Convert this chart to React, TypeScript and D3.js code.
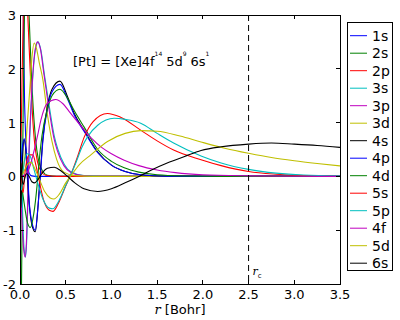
import * as d3 from "d3";

// radial functions as [r (Bohr), value] pairs
const s1s = [[0, 0], [0.005, 4.66], [0.0128, 6.5], [0.02, 5.8], [0.025, 4.9], [0.035, 3.14], [0.05, 1.39], [0.06, 0.84], [0.07, 0.41], [0.085, 0.17], [0.1, 0.06], [0.13, 0.01], [0.2, 0], [3.5, 0]];
const s2s = [[0, 0], [0.004, -1.8], [0.01, -2.5], [0.016, -2.1], [0.022, -1.1], [0.027, 0], [0.035, 1.3], [0.049, 3.0], [0.07, 3.8], [0.085, 3.5], [0.099, 3.0], [0.12, 2.1], [0.14, 1.4], [0.17, 0.7], [0.2, 0.32], [0.25, 0.09], [0.3, 0.02], [0.4, 0], [3.5, 0]];
const s2p = [[0, 0], [0.01, 0.5], [0.02, 1.55], [0.031, 2.6], [0.042, 3.4], [0.055, 3.8], [0.07, 3.55], [0.085, 3.0], [0.1, 2.4], [0.12, 1.65], [0.14, 1.05], [0.16, 0.62], [0.19, 0.28], [0.23, 0.09], [0.28, 0.02], [0.4, 0], [3.5, 0]];
const s3s = [[0, 0], [0.004, 0.5], [0.008, 0.75], [0.013, 0.6], [0.02, 0], [0.03, -0.75], [0.045, -1.35], [0.06, -1.5], [0.072, -1.25], [0.087, -0.45], [0.102, 0.5], [0.122, 1.3], [0.142, 1.9], [0.168, 2.35], [0.198, 2.5], [0.228, 2.35], [0.268, 1.88], [0.325, 1.25], [0.375, 0.75], [0.415, 0.5], [0.485, 0.22], [0.56, 0.08], [0.7, 0.015], [0.9, 0], [3.5, 0]];
const s3p = [[0, 0], [0.012, -0.45], [0.025, -0.95], [0.04, -1.35], [0.056, -1.5], [0.068, -1.3], [0.082, -0.6], [0.095, 0.3], [0.12, 1.3], [0.14, 1.9], [0.165, 2.35], [0.192, 2.5], [0.222, 2.38], [0.262, 1.9], [0.32, 1.22], [0.37, 0.72], [0.41, 0.47], [0.48, 0.2], [0.56, 0.07], [0.7, 0.012], [0.9, 0], [3.5, 0]];
const s3d = [[0, 0], [0.03, 0.1], [0.06, 0.5], [0.085, 1.1], [0.106, 1.6], [0.13, 2.2], [0.155, 2.48], [0.18, 2.38], [0.21, 2.12], [0.25, 1.8], [0.3, 1.15], [0.35, 0.65], [0.4, 0.32], [0.48, 0.08], [0.6, 0.015], [0.8, 0], [3.5, 0]];
const s4s = [[0, 0], [0.006, -0.6], [0.012, -0.5], [0.02, 0], [0.03, 0.45], [0.045, 0.68], [0.06, 0.55], [0.08, 0], [0.1, -0.5], [0.13, -0.9], [0.167, -1.03], [0.195, -0.6], [0.22, 0], [0.25, 0.7], [0.3, 1.3], [0.35, 1.62], [0.437, 1.77], [0.52, 1.48], [0.593, 1.17], [0.7, 0.86], [0.85, 0.45], [1.0, 0.21], [1.15, 0.09], [1.32, 0.03], [1.6, 0.005], [2.0, 0], [3.5, 0]];
const s4p = [[0, 0], [0.015, 0.3], [0.03, 0.6], [0.048, 0.7], [0.065, 0.5], [0.085, 0], [0.1, -0.45], [0.13, -0.85], [0.167, -1.0], [0.195, -0.6], [0.222, 0], [0.25, 0.65], [0.3, 1.26], [0.35, 1.57], [0.437, 1.71], [0.52, 1.44], [0.593, 1.14], [0.7, 0.84], [0.85, 0.44], [1.0, 0.21], [1.15, 0.09], [1.32, 0.03], [1.6, 0.005], [2.0, 0], [3.5, 0]];
const s4d = [[0, 0], [0.02, -0.2], [0.05, -0.55], [0.08, -0.85], [0.113, -0.95], [0.15, -0.7], [0.185, -0.2], [0.205, 0.2], [0.24, 0.75], [0.3, 1.25], [0.35, 1.5], [0.437, 1.62], [0.52, 1.45], [0.6, 1.2], [0.7, 0.92], [0.85, 0.5], [1.0, 0.28], [1.14, 0.16], [1.3, 0.08], [1.5, 0.03], [1.8, 0.008], [2.2, 0], [3.5, 0]];
const s5s = [[0, 0], [0.008, 0.3], [0.016, 0], [0.025, -0.25], [0.035, -0.3], [0.05, 0], [0.07, 0.25], [0.1, 0.4], [0.14, 0.4], [0.175, 0.2], [0.2, 0], [0.26, -0.45], [0.32, -0.63], [0.36, -0.65], [0.42, -0.5], [0.5, -0.18], [0.56, 0.05], [0.63, 0.37], [0.7, 0.72], [0.8, 1.02], [0.957, 1.17], [1.1, 1.1], [1.32, 0.86], [1.5, 0.66], [1.68, 0.49], [1.98, 0.31], [2.2, 0.2], [2.5, 0.09], [2.8, 0.04], [3.1, 0.015], [3.5, 0.005]];
const s5p = [[0, 0], [0.008, -0.2], [0.018, -0.25], [0.03, 0], [0.05, 0.3], [0.08, 0.42], [0.11, 0.38], [0.15, 0.15], [0.19, -0.1], [0.25, -0.42], [0.32, -0.59], [0.36, -0.6], [0.42, -0.47], [0.5, -0.17], [0.56, 0.05], [0.61, 0.25], [0.68, 0.55], [0.74, 0.74], [0.85, 0.95], [1.03, 1.08], [1.15, 1.06], [1.32, 0.99], [1.5, 0.8], [1.68, 0.62], [1.98, 0.38], [2.2, 0.25], [2.5, 0.13], [2.8, 0.06], [3.1, 0.025], [3.5, 0.01]];
const s4f = [[0, 0], [0.05, 0.02], [0.1, 0.15], [0.15, 0.45], [0.2, 0.82], [0.229, 1.05], [0.3, 1.36], [0.39, 1.43], [0.47, 1.35], [0.55, 1.18], [0.65, 0.97], [0.775, 0.72], [0.9, 0.53], [1.0, 0.42], [1.14, 0.3], [1.3, 0.2], [1.5, 0.12], [1.7, 0.07], [2.0, 0.03], [2.5, 0.01], [3.0, 0.003], [3.5, 0]];
const s5d = [[0, 0], [0.03, 0.05], [0.06, 0.15], [0.09, 0.24], [0.12, 0.26], [0.16, 0.15], [0.2, 0], [0.27, -0.28], [0.33, -0.4], [0.37, -0.42], [0.43, -0.33], [0.5, -0.12], [0.56, 0.02], [0.65, 0.22], [0.775, 0.4], [0.957, 0.65], [1.15, 0.8], [1.32, 0.85], [1.5, 0.84], [1.75, 0.75], [1.98, 0.64], [2.25, 0.52], [2.5, 0.43], [2.75, 0.35], [3.0, 0.29], [3.25, 0.24], [3.5, 0.195]];
const s6s = [[0, 0], [0.01, 0.25], [0.02, 0], [0.035, -0.15], [0.05, -0.05], [0.07, 0.05], [0.1, 0], [0.13, -0.1], [0.16, -0.12], [0.2, -0.05], [0.25, 0.08], [0.3, 0.15], [0.375, 0.17], [0.45, 0.1], [0.52, 0], [0.6, -0.12], [0.7, -0.23], [0.85, -0.28], [1.0, -0.23], [1.15, -0.12], [1.3, 0], [1.45, 0.13], [1.61, 0.25], [1.8, 0.37], [1.98, 0.48], [2.2, 0.55], [2.5, 0.6], [2.75, 0.62], [3.0, 0.6], [3.25, 0.575], [3.5, 0.54]];

const names = ["1s", "2s", "2p", "3s", "3p", "3d", "4s", "4p", "4d", "5s", "5p", "4f", "5d", "6s"];
const curves = [s1s, s2s, s2p, s3s, s3p, s3d, s4s, s4p, s4d, s5s, s5p, s4f, s5d, s6s];
const colors = ["#0000ff", "#008000", "#ff0000", "#00bfbf", "#bf00bf", "#bfbf00", "#000000",
  "#0000ff", "#008000", "#ff0000", "#00bfbf", "#bf00bf", "#bfbf00", "#000000"];

const xTicks = [0, 0.5, 1, 1.5, 2, 2.5, 3, 3.5];
const yTicks = [-2, -1, 0, 1, 2, 3];
const rCut = 2.5;

const W = 400, H = 320;
const left = 20, right = 340, top = 15, bottom = 284;
const font = "'DejaVu Sans', sans-serif";

export default function App() {
  const x = d3.scaleLinear().domain([0, 3.5]).range([left, right]);
  const y = d3.scaleLinear().domain([-2, 3]).range([bottom, top]);
  const line = d3.line<number[]>()
    .x(d => x(d[0]))
    .y(d => y(d[1]))
    .curve(d3.curveMonotoneX);

  const legX = 347.5, legY = 22.5, legW = 45, legH = 248, step = 17.5;

  return (
    <svg width={W} height={H} style={{ position: "absolute", left: 0, top: 0, background: "#fff" }}
      fontFamily={font}>
      <defs>
        <clipPath id="plot">
          <rect x={left} y={top} width={right - left} height={bottom - top} />
        </clipPath>
      </defs>
      <rect x={0} y={0} width={W} height={H} fill="#fff" />

      <g clipPath="url(#plot)">
        {curves.map((c, i) => (
          <path key={names[i]} d={line(c) || ""} fill="none" stroke={colors[i]} strokeWidth={1.1} />
        ))}
        <line x1={x(rCut)} x2={x(rCut)} y1={top} y2={bottom} stroke="#000" strokeDasharray="6,4" />
      </g>

      {/* ticks, inside on all four sides */}
      <g stroke="#000" shapeRendering="crispEdges">
        {xTicks.map(t => (
          <g key={"xt" + t}>
            <line x1={x(t)} x2={x(t)} y1={bottom} y2={bottom - 4} />
            <line x1={x(t)} x2={x(t)} y1={top} y2={top + 4} />
          </g>
        ))}
        {yTicks.map(t => (
          <g key={"yt" + t}>
            <line x1={left} x2={left + 4} y1={y(t)} y2={y(t)} />
            <line x1={right} x2={right - 4} y1={y(t)} y2={y(t)} />
          </g>
        ))}
        <rect x={left} y={top} width={right - left} height={bottom - top} fill="none" />
      </g>

      <g fontSize={13} fill="#000">
        {xTicks.map(t => (
          <text key={"xl" + t} x={x(t)} y={bottom + 15} textAnchor="middle">{t.toFixed(1)}</text>
        ))}
        {yTicks.map(t => (
          <text key={"yl" + t} x={left - 4} y={y(t) + 5} textAnchor="end">{String(t)}</text>
        ))}
        <text x={(left + right) / 2} y={314} textAnchor="middle">
          <tspan fontFamily="'DejaVu Serif', serif" fontStyle="italic">r</tspan> [Bohr]
        </text>
      </g>

      <text x={73} y={66} fontSize={13} fill="#000">
        [Pt] = [Xe]4f
        <tspan fontSize={6} dy={-10}>14</tspan>
        <tspan dy={10} dx={4}>5d</tspan>
        <tspan fontSize={6} dy={-10}>9</tspan>
        <tspan dy={10} dx={4}>6s</tspan>
        <tspan fontSize={6} dy={-10}>1</tspan>
      </text>

      <text x={x(rCut) + 4} y={275} fontSize={11} fill="#000">
        <tspan fontFamily="'DejaVu Serif', serif" fontStyle="italic">r</tspan>
        <tspan fontSize={7} dy={3}>c</tspan>
      </text>

      {/* legend */}
      <rect x={legX} y={legY} width={legW} height={legH} fill="#fff" stroke="#000" shapeRendering="crispEdges" />
      {names.map((n, i) => {
        const cy = 35.7 + i * step;
        return (
          <g key={"lg" + n}>
            <line x1={350} x2={367} y1={cy} y2={cy} stroke={colors[i]} strokeWidth={1} />
            <text x={372} y={cy + 5} fontSize={14} fill="#000">{n}</text>
          </g>
        );
      })}
    </svg>
  );
}
